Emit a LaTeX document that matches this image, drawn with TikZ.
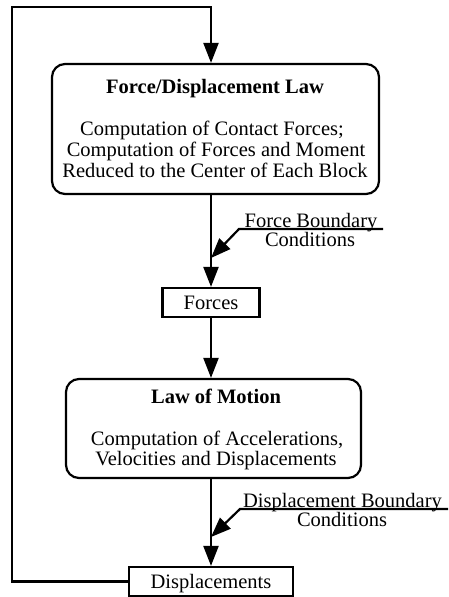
\documentclass[tikz,border=0pt]{standalone}
\usepackage{fontspec}
\setmainfont{Liberation Serif}
\usetikzlibrary{arrows.meta}
\begin{document}
\begin{tikzpicture}[x=1pt,y=-1pt,
  every node/.style={font=\fontsize{20.5}{21}\selectfont, inner sep=0pt},
  rbox/.style={draw, line width=2.2pt, rounded corners=13pt},
  sbox/.style={draw, line width=2.2pt, text height=13.8pt, text depth=0pt},
  txt/.style={anchor=base},
  flow/.style={line width=2.2pt, -{Triangle[length=20pt,width=15pt]}},
  wire/.style={line width=2.2pt}]
\useasboundingbox (0,0) rectangle (448,597);
% boxes
\node[rbox, minimum width=327pt, minimum height=130pt] (fdl) at (215.5,129) {};
\node[txt] (fdlh) at (215,93) {\bfseries Force/Displacement Law};
\node[txt] (fdl1) at (212,135) {Computation of Contact Forces;};
\node[txt] (fdl2) at (216,156) {Computation of Forces and Moment};
\node[txt] (fdl3) at (215,177) {Reduced to the Center of Each Block};

\node[sbox, minimum width=97pt, minimum height=29pt] (forces) at (211,302.5) {Forces};

\node[rbox, minimum width=295pt, minimum height=99pt] (lom) at (213.5,428.5) {};
\node[txt] (lomh) at (216,403) {\bfseries Law of Motion};
\node[txt] (lom1) at (217,445) {Computation of Accelerations,};
\node[txt] (lom2) at (216,465) {Velocities and Displacements};

\node[sbox, minimum width=164pt, minimum height=29pt] (disp) at (211,581.5) {Displacements};

% boundary condition labels
\node[txt] (fbc1) at (311,227) {Force Boundary};
\node[txt] (fbc2) at (310,246) {Conditions};
\node[txt] (dbc1) at (342.5,507) {Displacement Boundary};
\node[txt] (dbc2) at (342,526) {Conditions};

% coordinates
\coordinate (mx) at (211,0);
\coordinate (loopL) at (12,7);
\coordinate (fbcEnd) at (383,229);
\coordinate (fbcKnee) at (239,229);
\coordinate (fbcTip) at (211,258);
\coordinate (dbcEnd) at (448,509);
\coordinate (dbcKnee) at (240,509);
\coordinate (dbcTip) at (211,537);

% connectors
\draw[flow] (disp.west) -| (loopL) -| (mx |- fdl.north);
\draw[flow] (mx |- fdl.south) -- (forces.north);
\draw[flow] (forces.south) -- (mx |- lom.north);
\draw[flow] (mx |- lom.south) -- (disp.north);
\draw[flow] (fbcEnd) -- (fbcKnee) -- (fbcTip);
\draw[flow] (dbcEnd) -- (dbcKnee) -- (dbcTip);
\end{tikzpicture}
\end{document}
